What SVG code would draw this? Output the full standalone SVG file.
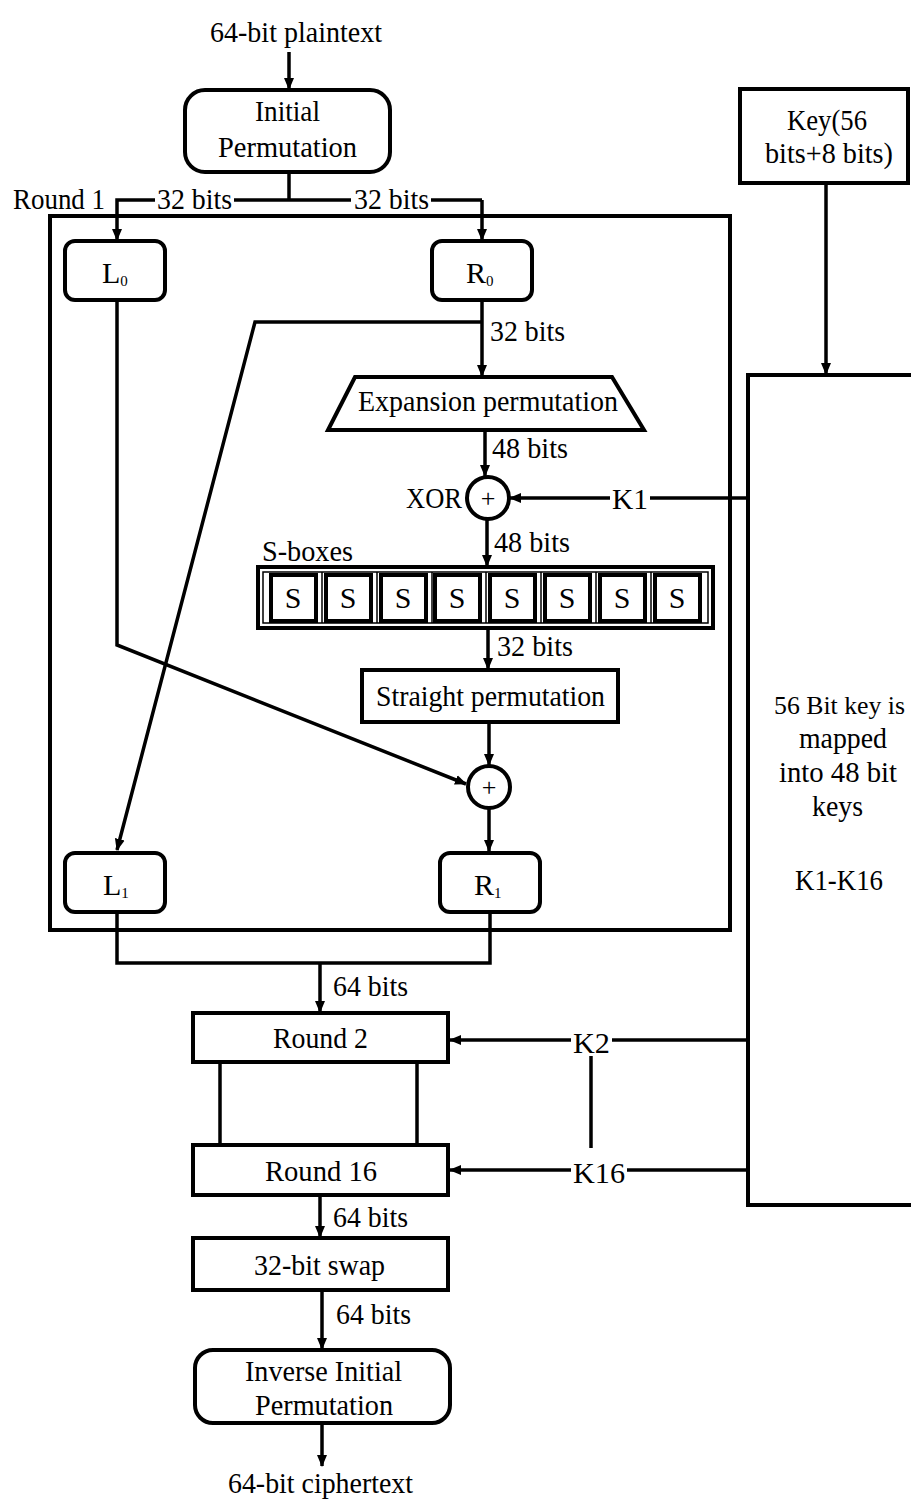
<svg xmlns="http://www.w3.org/2000/svg" width="911" height="1502" viewBox="0 0 911 1502">
<defs>
<style>
text{font-family:"Liberation Serif","Times New Roman",serif;font-size:30px;fill:#000}
.c{text-anchor:middle}
.b{fill:#fff;stroke:#000;stroke-width:4}
.t{fill:none;stroke:#000;stroke-width:1.5}
.ln{fill:none;stroke:#000;stroke-width:3.5}
.bg{fill:#fff;stroke:none}
.sub{font-size:15px}
</style>
<marker id="ah" markerWidth="12" markerHeight="12" refX="11" refY="6" orient="auto" markerUnits="userSpaceOnUse"><path d="M0,1 L12,6 L0,11 Z" fill="#000"/></marker>
</defs>
<rect x="0" y="0" width="911" height="1502" fill="#fff"/>

<g id="round1-frame"><rect x="50" y="216" width="680" height="714" fill="none" stroke="#000" stroke-width="4"/></g>

<g id="connectors">
<line class="ln" x1="289" y1="52" x2="289" y2="89" marker-end="url(#ah)"/>
<polyline class="ln" points="289,172 289,200"/>
<polyline class="ln" points="482,200 117,200 117,240" marker-end="url(#ah)"/>
<polyline class="ln" points="482,200 482,240" marker-end="url(#ah)"/>
<line class="ln" x1="482" y1="300" x2="482" y2="376" marker-end="url(#ah)"/>
<polyline class="ln" points="482,322 255,322 117,850" marker-end="url(#ah)"/>
<polyline class="ln" points="117,300 117,645 466,784" marker-end="url(#ah)"/>
<line class="ln" x1="485" y1="430" x2="485" y2="476" marker-end="url(#ah)"/>
<line class="ln" x1="748" y1="498" x2="510" y2="498" marker-end="url(#ah)"/>
<line class="ln" x1="487" y1="519" x2="487" y2="566" marker-end="url(#ah)"/>
<line class="ln" x1="488" y1="628" x2="488" y2="669" marker-end="url(#ah)"/>
<line class="ln" x1="489" y1="722" x2="489" y2="765" marker-end="url(#ah)"/>
<line class="ln" x1="489" y1="808" x2="489" y2="851" marker-end="url(#ah)"/>
<polyline class="ln" points="117,912 117,963 490,963 490,912"/>
<line class="ln" x1="320" y1="963" x2="320" y2="1012" marker-end="url(#ah)"/>
<line class="ln" x1="220" y1="1062" x2="220" y2="1145"/>
<line class="ln" x1="417" y1="1062" x2="417" y2="1145"/>
<line class="ln" x1="748" y1="1040" x2="450" y2="1040" marker-end="url(#ah)"/>
<line class="ln" x1="591" y1="1056" x2="591" y2="1148"/>
<line class="ln" x1="748" y1="1170" x2="450" y2="1170" marker-end="url(#ah)"/>
<line class="ln" x1="320" y1="1195" x2="320" y2="1237" marker-end="url(#ah)"/>
<line class="ln" x1="322" y1="1290" x2="322" y2="1349" marker-end="url(#ah)"/>
<line class="ln" x1="322" y1="1423" x2="322" y2="1466" marker-end="url(#ah)"/>
<line class="ln" x1="826" y1="183" x2="826" y2="374" marker-end="url(#ah)"/>
</g>

<g id="labels">
<text x="210" y="42" textLength="172" lengthAdjust="spacingAndGlyphs">64-bit plaintext</text>
<text x="13" y="209" textLength="92" lengthAdjust="spacingAndGlyphs">Round 1</text>
<rect class="bg" x="155" y="186" width="79" height="26"/>
<text x="157" y="209" textLength="75" lengthAdjust="spacingAndGlyphs">32 bits</text>
<rect class="bg" x="351" y="186" width="80" height="26"/>
<text x="354" y="209" textLength="75" lengthAdjust="spacingAndGlyphs">32 bits</text>
<text x="490" y="341" textLength="75" lengthAdjust="spacingAndGlyphs">32 bits</text>
<text x="492" y="458" textLength="76" lengthAdjust="spacingAndGlyphs">48 bits</text>
<text x="406" y="508" textLength="56" lengthAdjust="spacingAndGlyphs">XOR</text>
<rect class="bg" x="610" y="484" width="40" height="28"/>
<text x="612" y="509" textLength="36" lengthAdjust="spacingAndGlyphs">K1</text>
<text x="494" y="552" textLength="76" lengthAdjust="spacingAndGlyphs">48 bits</text>
<text x="262" y="561" textLength="91" lengthAdjust="spacingAndGlyphs">S-boxes</text>
<text x="497" y="656" textLength="76" lengthAdjust="spacingAndGlyphs">32 bits</text>
<text x="333" y="996" textLength="75" lengthAdjust="spacingAndGlyphs">64 bits</text>
<rect class="bg" x="571" y="1027" width="41" height="28"/>
<text x="573" y="1053" textLength="37" lengthAdjust="spacingAndGlyphs">K2</text>
<rect class="bg" x="571" y="1157" width="56" height="28"/>
<text x="573" y="1183" textLength="52" lengthAdjust="spacingAndGlyphs">K16</text>
<text x="333" y="1227" textLength="75" lengthAdjust="spacingAndGlyphs">64 bits</text>
<text x="336" y="1324" textLength="75" lengthAdjust="spacingAndGlyphs">64 bits</text>
<text x="228" y="1493" textLength="185" lengthAdjust="spacingAndGlyphs">64-bit ciphertext</text>
</g>

<g id="initial-permutation">
<rect class="b" x="185" y="90" width="205" height="82" rx="20"/>
<text x="255" y="121" textLength="65" lengthAdjust="spacingAndGlyphs">Initial</text>
<text x="218" y="157" textLength="139" lengthAdjust="spacingAndGlyphs">Permutation</text>
</g>

<g id="L0">
<rect class="b" x="65" y="241" width="100" height="59" rx="10"/>
<text x="102" y="283">L<tspan class="sub" dy="3">0</tspan></text>
</g>
<g id="R0">
<rect class="b" x="432" y="241" width="100" height="59" rx="10"/>
<text x="466" y="283">R<tspan class="sub" dy="3">0</tspan></text>
</g>

<g id="expansion-permutation">
<polygon class="b" points="355,377 612,377 644,430 328,430"/>
<text x="358" y="411" textLength="260" lengthAdjust="spacingAndGlyphs">Expansion permutation</text>
</g>

<g id="xor1">
<circle class="b" cx="488" cy="498" r="21" stroke-width="3.5"/>
<text class="c" x="488" y="507" style="font-size:26px">+</text>
</g>

<g id="s-boxes">
<rect class="b" x="258" y="567" width="455" height="61"/>
<rect class="t" x="263" y="572" width="445" height="51"/>
<g class="t">
<line x1="322" y1="572" x2="322" y2="623"/>
<line x1="377" y1="572" x2="377" y2="623"/>
<line x1="432" y1="572" x2="432" y2="623"/>
<line x1="486" y1="572" x2="486" y2="623"/>
<line x1="541" y1="572" x2="541" y2="623"/>
<line x1="596" y1="572" x2="596" y2="623"/>
<line x1="651" y1="572" x2="651" y2="623"/>
</g>
<rect class="b" x="271" y="575" width="45" height="46" stroke-width="3.5"/>
<rect class="b" x="326" y="575" width="45" height="46" stroke-width="3.5"/>
<rect class="b" x="381" y="575" width="45" height="46" stroke-width="3.5"/>
<rect class="b" x="435" y="575" width="45" height="46" stroke-width="3.5"/>
<rect class="b" x="490" y="575" width="45" height="46" stroke-width="3.5"/>
<rect class="b" x="545" y="575" width="45" height="46" stroke-width="3.5"/>
<rect class="b" x="600" y="575" width="45" height="46" stroke-width="3.5"/>
<rect class="b" x="655" y="575" width="45" height="46" stroke-width="3.5"/>
<text class="c" x="293" y="608">S</text>
<text class="c" x="348" y="608">S</text>
<text class="c" x="403" y="608">S</text>
<text class="c" x="457" y="608">S</text>
<text class="c" x="512" y="608">S</text>
<text class="c" x="567" y="608">S</text>
<text class="c" x="622" y="608">S</text>
<text class="c" x="677" y="608">S</text>
</g>

<g id="straight-permutation">
<rect class="b" x="362" y="670" width="256" height="52"/>
<text x="376" y="706" textLength="229" lengthAdjust="spacingAndGlyphs">Straight permutation</text>
</g>

<g id="xor2">
<circle class="b" cx="489" cy="787" r="21" stroke-width="3.5"/>
<text class="c" x="489" y="796" style="font-size:26px">+</text>
</g>

<g id="L1">
<rect class="b" x="65" y="853" width="100" height="59" rx="10"/>
<text x="103" y="895">L<tspan class="sub" dy="3">1</tspan></text>
</g>
<g id="R1">
<rect class="b" x="440" y="853" width="100" height="59" rx="10"/>
<text x="474" y="895">R<tspan class="sub" dy="3">1</tspan></text>
</g>

<g id="round2">
<rect class="b" x="193" y="1013" width="255" height="49"/>
<text x="273" y="1048" textLength="95" lengthAdjust="spacingAndGlyphs">Round 2</text>
</g>
<g id="round16">
<rect class="b" x="193" y="1145" width="255" height="50"/>
<text x="265" y="1181" textLength="112" lengthAdjust="spacingAndGlyphs">Round 16</text>
</g>
<g id="swap">
<rect class="b" x="193" y="1238" width="255" height="52"/>
<text x="254" y="1275" textLength="131" lengthAdjust="spacingAndGlyphs">32-bit swap</text>
</g>
<g id="inverse-initial-permutation">
<rect class="b" x="195" y="1350" width="255" height="73" rx="18"/>
<text x="245" y="1381" textLength="157" lengthAdjust="spacingAndGlyphs">Inverse Initial</text>
<text x="255" y="1415" textLength="138" lengthAdjust="spacingAndGlyphs">Permutation</text>
</g>

<g id="key">
<rect class="b" x="740" y="89" width="168" height="94"/>
<text x="787" y="130" textLength="80" lengthAdjust="spacingAndGlyphs">Key(56</text>
<text x="765" y="163" textLength="128" lengthAdjust="spacingAndGlyphs">bits+8 bits)</text>
</g>

<g id="key-schedule">
<rect class="b" x="748" y="375" width="180" height="830"/>
<text x="774" y="714" style="font-size:26px" textLength="131" lengthAdjust="spacingAndGlyphs">56 Bit key is</text>
<text x="799" y="748" textLength="88" lengthAdjust="spacingAndGlyphs">mapped</text>
<text x="779" y="782" textLength="118" lengthAdjust="spacingAndGlyphs">into 48 bit</text>
<text x="812" y="816" textLength="51" lengthAdjust="spacingAndGlyphs">keys</text>
<text x="795" y="890" textLength="88" lengthAdjust="spacingAndGlyphs">K1-K16</text>
</g>
</svg>
